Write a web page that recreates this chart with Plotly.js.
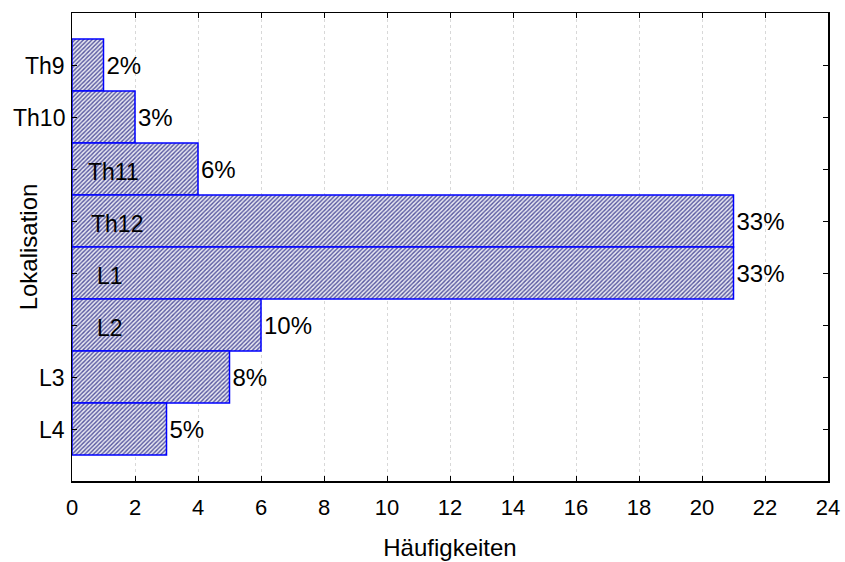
<!DOCTYPE html>
<html>
<head>
<meta charset="utf-8">
<script src="https://cdn.plot.ly/plotly-3.0.1.min.js"></script>
<style>html,body{margin:0;padding:0;background:#fff;}#chart{width:845px;height:562px;}</style>
</head>
<body>
<div id="chart"></div>
<script>
const categories = ["Th9", "Th10", "Th11", "Th12", "L1", "L2", "L3", "L4"];
const counts = [1, 2, 4, 21, 21, 6, 5, 3];
const percentLabels = ["2%", "3%", "6%", "33%", "33%", "10%", "8%", "5%"];
const xTicks = [0, 2, 4, 6, 8, 10, 12, 14, 16, 18, 20, 22, 24];

const FONT = "Liberation Sans, Arial, sans-serif";
const FS_LABEL = 23, FS_PCT = 24, FS_TITLE = 24, FS_TICK = 22;

// label placement styling (outside left of axis vs. inside the bar)
const insideLabelX = {"Th11": 0.45, "Th12": 0.55, "L1": 0.74, "L2": 0.74};

const annotations = categories.map((c, i) => {
  if (insideLabelX[c] !== undefined) {
    return {x: insideLabelX[c], y: c, xref: "x", yref: "y", text: c, showarrow: false,
      xanchor: "left", yanchor: "middle", yshift: -3, font: {family: FONT, size: FS_LABEL, color: "#000"}};
  }
  return {x: 0, y: c, xref: "paper", yref: "y", text: c, showarrow: false,
    xanchor: "right", yanchor: "middle", xshift: -5, yshift: -1, font: {family: FONT, size: FS_LABEL, color: "#000"}};
});

const trace = {
  type: "bar",
  orientation: "h",
  y: categories,
  x: counts,
  text: percentLabels,
  textposition: "outside",
  cliponaxis: false,
  textfont: {family: FONT, size: FS_PCT, color: "#000"},
  hoverinfo: "none",
  marker: {
    color: "#ffffff",
    line: {color: "#0000ff", width: 1.5},
    pattern: {shape: "/", fgcolor: "#55559e", bgcolor: "#e8e8f2", size: 3, solidity: 0.45}
  },
  width: 1
};

const layout = {
  width: 845, height: 562,
  margin: {l: 72, r: 17, t: 13, b: 81},
  paper_bgcolor: "#fff", plot_bgcolor: "#fff",
  showlegend: false,
  bargap: 0,
  font: {family: FONT, size: FS_LABEL, color: "#000"},
  xaxis: {
    range: [0, 24],
    tickvals: xTicks,
    ticktext: xTicks.map(String),
    ticks: "inside", ticklen: 5, tickcolor: "#000", tickwidth: 1,
    ticklabelstandoff: 6,
    showline: true, linecolor: "#000", linewidth: 1.5, mirror: "ticks",
    showgrid: true, gridcolor: "#d8d8d8", griddash: "dot", gridwidth: 1,
    zeroline: false,
    tickfont: {family: FONT, size: FS_TICK, color: "#000"},
    title: {text: "Häufigkeiten", font: {family: FONT, size: FS_TITLE, color: "#000"}, standoff: 20}
  },
  yaxis: {
    type: "category",
    categoryorder: "array", categoryarray: categories,
    range: [8, -1],
    ticks: "inside", ticklen: 5, tickcolor: "#000", tickwidth: 1,
    showticklabels: false,
    showline: true, linecolor: "#000", linewidth: 1.5, mirror: "ticks",
    showgrid: false, zeroline: false,
    title: {text: "Lokalisation", font: {family: FONT, size: FS_TITLE, color: "#000"}, standoff: 26}
  },
  annotations: annotations
};

Plotly.newPlot("chart", [trace], layout, {displayModeBar: false, staticPlot: true});
</script>
</body>
</html>
